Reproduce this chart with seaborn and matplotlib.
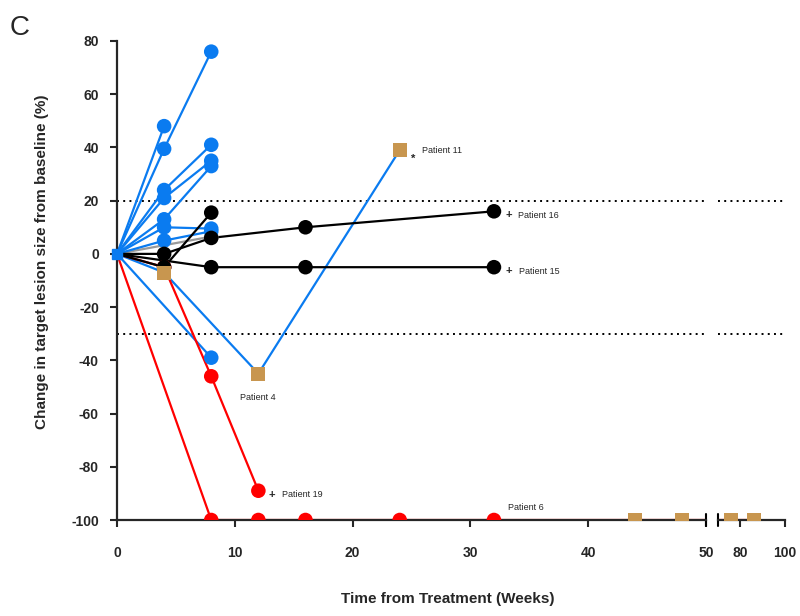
import matplotlib
matplotlib.use("Agg")
import matplotlib.pyplot as plt
import pandas as pd
import seaborn as sns

# ── Patient trajectories (weeks, % change from baseline) ─────────────
blue_weeks = [[0, 4], [0, 4, 8], [0, 4, 8], [0, 4, 8], [0, 4, 8],
              [0, 4, 8], [0, 4, 8], [0, 8], [0, 4, 12, 24]]
blue_pct = [[0, 48], [0, 39.5, 76], [0, 24, 41], [0, 21, 35], [0, 13, 33],
            [0, 10, 9.5], [0, 5, 8.5], [0, -39], [0, -7, -45, 39]]

black_weeks = [[0, 4, 8, 16, 32], [0, 4, 8], [0, 8, 16, 32]]
black_pct = [[0, 0, 6, 10, 16], [0, -5, 15.5], [0, -5, -5, -5]]

gray_weeks = [[0, 8]]
gray_pct = [[0, 6.5]]

red_weeks = [[0, 8, 12, 16, 24, 32, 44, 48, 76, 86], [0, 4, 8, 12]]
red_pct = [[0, -100, -100, -100, -100, -100, -100, -100, -100, -100],
           [0, -5, -46, -89]]

# points drawn as tan squares instead of circles: (group, patient index, point index)
square_points = [("blue", 8, 1), ("blue", 8, 2), ("blue", 8, 3),
                 ("red", 0, 6), ("red", 0, 7), ("red", 0, 8), ("red", 0, 9)]

x_ticks_main = [0, 10, 20, 30, 40, 50]
x_ticks_tail = [80, 100]
y_ticks = [-100, -80, -60, -40, -20, 0, 20, 40, 60, 80]
threshold_lines = [20, -30]

colors = {"blue": "#0A7BF0", "black": "#000000", "gray": "#9a9a9a", "red": "#FF0000"}
square_color = "#C8964F"

groups = {
    "gray": (gray_weeks, gray_pct),
    "blue": (blue_weeks, blue_pct),
    "red": (red_weeks, red_pct),
    "black": (black_weeks, black_pct),
}

rows = []
for group, (weeks_list, pct_list) in groups.items():
    for i, (weeks, pct) in enumerate(zip(weeks_list, pct_list)):
        for j, (w, p) in enumerate(zip(weeks, pct)):
            rows.append({
                "patient": f"{group}{i}",
                "group": group,
                "week": w,
                "pct": p,
                "square": (group, i, j) in square_points,
                "baseline": j == 0,
            })
df = pd.DataFrame(rows)

sns.set_style("ticks")
plt.rcParams["font.family"] = ["Liberation Sans", "DejaVu Sans"]

fig = plt.figure(figsize=(8, 6.16), dpi=100)
ax1 = fig.add_axes([117 / 800, 1 - 520 / 616, (706 - 117) / 800, 479 / 616])
ax2 = fig.add_axes([718 / 800, 1 - 520 / 616, (785 - 718) / 800, 479 / 616], sharey=ax1)

hue_order = ["gray", "blue", "red", "black"]
for ax in (ax1, ax2):
    for y in threshold_lines:
        ax.axhline(y, color="black", linestyle=(0, (1, 2.2)), lw=1.4, zorder=1)
    sns.lineplot(data=df, x="week", y="pct", units="patient", hue="group",
                 hue_order=hue_order, palette=colors, estimator=None, sort=False,
                 lw=1.6, legend=False, ax=ax, zorder=2)
    circles = df[~df["square"] & ~df["baseline"]]
    sns.scatterplot(data=circles, x="week", y="pct", hue="group", hue_order=hue_order,
                    palette=colors, s=110, marker="o", linewidth=0, legend=False,
                    ax=ax, zorder=4)
    sns.scatterplot(data=df[df["square"]], x="week", y="pct", color=square_color,
                    s=105, marker="s", linewidth=0, legend=False, ax=ax, zorder=5)

# baseline marker
ax1.plot([0], [0], marker="s", ms=7, color=colors["blue"], clip_on=False, zorder=6)

ax1.set_xlim(0, 50)
ax2.set_xlim(70, 100)
ax1.set_ylim(-100, 80)

tick_font = dict(fontsize=10, fontweight="bold")
ax1.set_yticks(y_ticks)
ax1.set_yticklabels([str(v) for v in y_ticks], **tick_font)
ax1.set_xticks(x_ticks_main)
ax1.set_xticklabels([str(v) for v in x_ticks_main], **tick_font)
ax2.set_xticks(x_ticks_tail)
ax2.set_xticklabels([str(v) for v in x_ticks_tail], **tick_font)
ax1.tick_params(axis="y", length=5, width=1.5, pad=8)
ax1.tick_params(axis="x", length=5, width=1.5, pad=14)
ax2.tick_params(axis="x", length=5, width=1.5, pad=14)
ax2.tick_params(axis="y", left=False, labelleft=False)

for ax in (ax1, ax2):
    ax.spines["top"].set_visible(False)
    ax.spines["right"].set_visible(False)
    ax.spines["bottom"].set_linewidth(1.6)
    ax.spines["left"].set_linewidth(1.6)
    ax.set_xlabel("")
    ax.set_ylabel("")
ax2.spines["left"].set_visible(False)

# axis break marks
ax1.plot([1, 1], [-0.012, 0.012], transform=ax1.transAxes, color="black", lw=1.5, clip_on=False)
ax2.plot([0, 0], [-0.012, 0.012], transform=ax2.transAxes, color="black", lw=1.5, clip_on=False)

# annotations
note = dict(fontsize=6.5, textcoords="offset points")
ax1.annotate("*", (24, 39), xytext=(8, -6), fontsize=8, fontweight="bold",
             textcoords="offset points", va="center")
ax1.annotate("Patient 11", (24, 39), xytext=(16, 0), va="center", **note)
ax1.annotate("+", (32, 16), xytext=(8, -3), fontsize=8, fontweight="bold",
             textcoords="offset points", va="center")
ax1.annotate("Patient 16", (32, 16), xytext=(17, -3), va="center", **note)
ax1.annotate("+", (32, -5), xytext=(8, -3), fontsize=8, fontweight="bold",
             textcoords="offset points", va="center")
ax1.annotate("Patient 15", (32, -5), xytext=(18, -3), va="center", **note)
ax1.annotate("Patient 4", (12, -45), xytext=(-13, -17), va="center", **note)
ax1.annotate("+", (12, -89), xytext=(7, -3), fontsize=8, fontweight="bold",
             textcoords="offset points", va="center")
ax1.annotate("Patient 19", (12, -89), xytext=(17, -3), va="center", **note)
ax1.annotate("Patient 6", (32, -100), xytext=(10, 9), va="center", **note)

fig.text(0.56, 0.017, "Time from Treatment (Weeks)", fontsize=11, fontweight="bold",
         ha="center", va="bottom")
fig.text(0.052, 0.575, "Change in target lesion size from baseline (%)", fontsize=11,
         fontweight="bold", rotation=90, ha="center", va="center")
fig.text(0.012, 0.975, "C", fontsize=20, ha="left", va="top")

fig.savefig("out.png", dpi=100)
